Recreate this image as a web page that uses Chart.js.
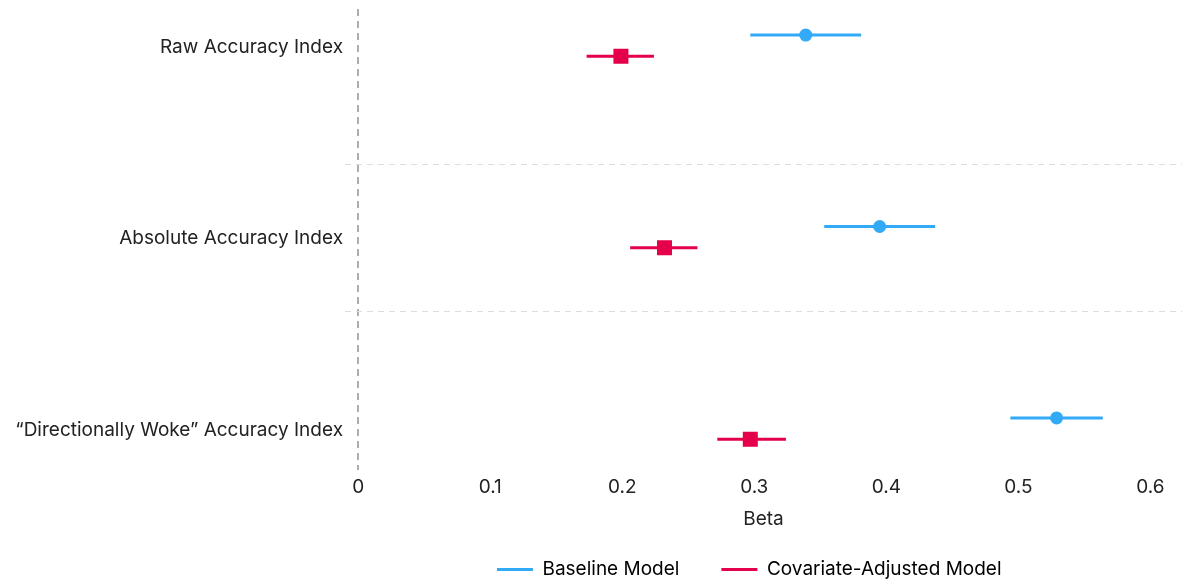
<!DOCTYPE html>
<html>
<head>
<meta charset="utf-8">
<script src="https://cdn.jsdelivr.net/npm/chart.js@4.4.1/dist/chart.umd.min.js"></script>
<style>
html,body{margin:0;padding:0;background:#fff;overflow:hidden;}
canvas{display:block;}
</style>
</head>
<body>
<canvas id="c" width="1182" height="581"></canvas>
<script>
const categories = ['Raw Accuracy Index', 'Absolute Accuracy Index', '\u201cDirectionally Woke\u201d Accuracy Index'];
const seriesNames = ['Baseline Model', 'Covariate-Adjusted Model'];
const baselineBeta = [0.339, 0.395, 0.529];
const baselineLow = [0.297, 0.353, 0.494];
const baselineHigh = [0.381, 0.437, 0.564];
const adjustedBeta = [0.199, 0.232, 0.297];
const adjustedLow = [0.173, 0.206, 0.272];
const adjustedHigh = [0.224, 0.257, 0.324];
const xTicks = [0, 0.1, 0.2, 0.3, 0.4, 0.5, 0.6];
const separators = [0.61, 1.38];

const BLUE = '#33AAF8';
const RED = '#E4004A';
const OFF_BASE = -0.064;
const OFF_ADJ = 0.047;
const FS = 19;

Chart.defaults.font.family = 'Inter, "Noto Sans", sans-serif';
Chart.defaults.font.size = FS;
Chart.defaults.color = '#222';

const pts = (vals, off) => vals.map((v, i) => ({x: v, y: i + off}));
const bars = [];
categories.forEach((c, i) => {
  bars.push({label: '_b' + i, data: [{x: baselineLow[i], y: i + OFF_BASE}, {x: baselineHigh[i], y: i + OFF_BASE}],
    showLine: true, borderColor: BLUE, borderWidth: 3, pointRadius: 0, pointHoverRadius: 0});
  bars.push({label: '_a' + i, data: [{x: adjustedLow[i], y: i + OFF_ADJ}, {x: adjustedHigh[i], y: i + OFF_ADJ}],
    showLine: true, borderColor: RED, borderWidth: 3, pointRadius: 0, pointHoverRadius: 0});
});

new Chart(document.getElementById('c'), {
  type: 'scatter',
  data: {
    datasets: [
      {label: seriesNames[0], data: pts(baselineBeta, OFF_BASE), pointStyle: 'circle', pointRadius: 6.5,
       backgroundColor: BLUE, borderColor: BLUE, borderWidth: 0},
      {label: seriesNames[1], data: pts(adjustedBeta, OFF_ADJ), pointStyle: 'rect', pointRadius: 10.6,
       backgroundColor: RED, borderColor: RED, borderWidth: 0},
      ...bars
    ]
  },
  options: {
    responsive: false,
    devicePixelRatio: 1,
    animation: false,
    layout: {autoPadding: false, padding: {left: 0, right: 0, top: 9, bottom: -8}},
    plugins: {
      tooltip: {enabled: false},
      legend: {
        position: 'bottom',
        fullSize: false,
        labels: {
          boxWidth: 36, boxHeight: 3, padding: 4,
          font: {size: FS},
          generateLabels: () => [
            {text: seriesNames[0] + '\u2003\u2003', fillStyle: BLUE, strokeStyle: BLUE, lineWidth: 0, hidden: false, datasetIndex: 0},
            {text: seriesNames[1] + '\u2003\u2002', fillStyle: RED, strokeStyle: RED, lineWidth: 0, hidden: false, datasetIndex: 1}
          ]
        }
      }
    },
    scales: {
      x: {
        type: 'linear',
        min: -0.01, max: 0.624,
        afterBuildTicks: s => { s.ticks = xTicks.map(v => ({value: v})); },
        afterFit: s => { s.paddingRight = 0; s.paddingLeft = 0; },
        ticks: {padding: 5, font: {size: FS}, callback: v => String(v)},
        grid: {drawTicks: false, lineWidth: 2,
          color: ctx => (ctx.tick && ctx.tick.value === 0) ? '#A9ADB4' : 'rgba(0,0,0,0)'},
        border: {display: false, dash: [7, 5]},
        title: {display: true, text: 'Beta', font: {size: FS}, padding: {top: 5, bottom: 25}}
      },
      y: {
        type: 'linear',
        reverse: true,
        min: -0.2, max: 2.21,
        afterBuildTicks: s => { s.ticks = [0, separators[0], 1, separators[1], 2].map(v => ({value: v})); },
        afterFit: s => { s.width = 345; s.paddingTop = 0; s.paddingBottom = 0; },
        ticks: {padding: 2, font: {size: FS},
          callback: v => Number.isInteger(v) ? categories[v] : ''},
        grid: {drawTicks: false, lineWidth: 1,
          color: ctx => (ctx.tick && separators.includes(ctx.tick.value)) ? '#DCDCDC' : 'rgba(0,0,0,0)'},
        border: {display: false, dash: [6, 5]}
      }
    }
  }
});
</script>
</body>
</html>
